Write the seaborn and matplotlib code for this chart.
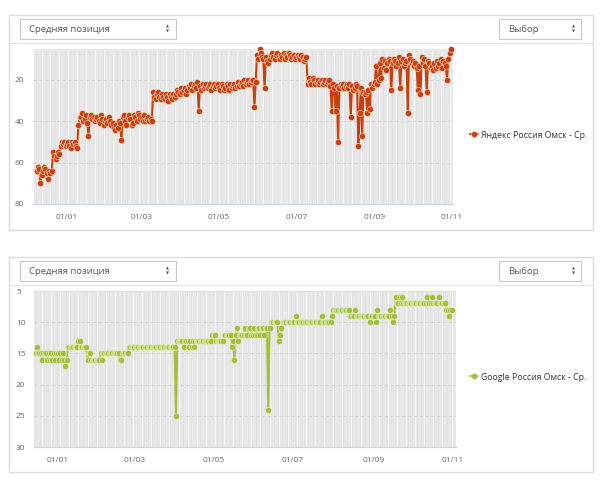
import numpy as np
import pandas as pd
import matplotlib
matplotlib.use('Agg')
import matplotlib.pyplot as plt
import matplotlib.dates as mdates
from matplotlib.patches import Rectangle
from matplotlib.lines import Line2D
import seaborn as sns

# ---------------- data ----------------
yandex_start = '2016-12-08'
y_dec = [64, 62, 63, 70, 66, 64, 62, 63, 65, 68, 64, 65, 64, 55, 57, 58, 57, 55, 56, 52,
         50, 51, 50, 52]
y_jan = [51, 50, 52, 53, 50, 51, 50, 52, 53, 42, 38, 38, 36, 40, 39, 37, 41, 47, 38, 37,
         39, 38, 40, 39, 38, 40, 41, 37, 39, 42, 40]
y_feb = [39, 41, 38, 40, 42, 41, 43, 44, 42, 43, 40, 41, 49, 38, 37, 40, 42, 38, 37, 39,
         42, 41, 37, 38, 40, 36, 37, 39]
y_mar = [38, 40, 37, 40, 39, 38, 40, 39, 40, 26, 28, 29, 27, 26, 28, 29, 27, 28, 29, 27,
         28, 30, 27, 28, 29, 27, 28, 27, 25, 26, 27]
y_apr = [24, 26, 25, 24, 27, 25, 23, 24, 22, 25, 23, 22, 24, 21, 35, 23, 25, 22, 24, 23,
         22, 24, 23, 22, 25, 23, 22, 24, 23, 22]
y_may = [24, 25, 22, 23, 25, 24, 22, 23, 25, 22, 24, 23, 22, 24, 23, 21, 23, 22, 21, 23,
         20, 22, 21, 20, 22, 21, 20, 20, 33, 21, 8]
y_jun = [10, 5, 7, 9, 10, 24, 9, 11, 12, 10, 8, 7, 9, 10, 8, 7, 9, 10, 8, 9,
         7, 10, 8, 9, 7, 8, 10, 9, 8, 10]
y_jul = [9, 8, 9, 10, 8, 9, 11, 10, 9, 22, 19, 21, 22, 19, 20, 22, 21, 20, 22, 21,
         20, 22, 21, 20, 22, 21, 20, 23, 35, 22, 24]
y_aug = [35, 23, 50, 24, 22, 23, 22, 24, 23, 22, 24, 22, 38, 23, 25, 24, 22, 23, 52, 36,
         24, 47, 26, 27, 26, 36, 25, 34, 22, 24, 22]
y_sep = [21, 13, 22, 20, 12, 19, 10, 14, 11, 15, 12, 10, 11, 25, 12, 10, 11, 13, 12, 9,
         24, 11, 10, 13, 12, 11, 36, 8, 10, 12]
y_oct = [11, 13, 12, 14, 25, 13, 27, 9, 12, 10, 13, 26, 11, 12, 14, 13, 15, 12, 14, 11,
         13, 12, 10, 14, 11, 12, 13, 20, 10, 7, 5]

google_start = '2016-12-15'
g_dec = [15, 14, 15, 15, 15, 16, 15, 15, 15, 16, 15, 16, 15, 16, 15, 16, 15]
g_jan = [15, 16, 15, 16, 15, 16, 17, 16, 14, 14, 14, 14, 14, 14, 14, 14, 13, 13, 14, 14,
         14, 14, 14, 16, 15, 15, 16, 16, 16, 16, 16]
g_feb = [16, 16, 15, 16, 15, 15, 15, 15, 15, 15, 15, 15, 15, 15, 15, 15, 15, 16, 16, 15,
         15, 15, 15, 15, 14, 14, 14, 14]
g_mar = [14, 14, 14, 14, 14, 14, 14, 14, 14, 14, 14, 14, 14, 14, 14, 14, 14, 14, 14, 14,
         14, 14, 14, 14, 14, 14, 14, 14, 14, 14, 14]
g_apr = [14, 25, 13, 13, 13, 13, 13, 14, 13, 13, 13, 14, 13, 14, 13, 14, 13, 13, 13, 13,
         13, 13, 13, 13, 13, 13, 13, 13, 13, 12]
g_may = [12, 12, 13, 13, 13, 13, 13, 13, 12, 12, 12, 12, 12, 12, 14, 13, 16, 12, 11, 13,
         12, 12, 12, 12, 11, 12, 12, 11, 11, 12, 12]
g_jun = [11, 12, 12, 11, 11, 12, 11, 11, 12, 11, 11, 24, 11, 10, 10, 10, 10, 10, 10, 13,
         12, 11, 10, 10, 10, 10, 10, 10, 10, 10]
g_jul = [10, 10, 9, 10, 10, 10, 10, 10, 10, 10, 10, 10, 10, 10, 10, 10, 10, 10, 10, 10,
         10, 10, 9, 10, 10, 10, 10, 10, 10, 10, 9]
g_aug = [8, 8, 8, 8, 8, 8, 8, 8, 8, 8, 8, 8, 8, 9, 9, 9, 9, 8, 9, 9,
         9, 9, 9, 9, 9, 9, 9, 9, 10, 9, 9]
g_sep = [9, 9, 10, 8, 9, 9, 9, 9, 9, 9, 9, 9, 9, 8, 9, 10, 9, 6, 7, 7,
         6, 7, 6, 7, 7, 7, 7, 7, 7, 7]
g_oct = [7, 7, 7, 7, 7, 7, 7, 7, 7, 7, 7, 6, 7, 7, 7, 6, 7, 7, 7, 7,
         6, 7, 7, 7, 7, 7, 8, 8, 9, 8, 8]

yandex_label = 'Яндекс Россия Омск - Ср.'
google_label = 'Google Россия Омск - Ср.'
dropdown_left = 'Средняя позиция'
dropdown_right = 'Выбор'
top_yticks = [20, 40, 60, 80]
bottom_yticks = [5, 10, 15, 20, 25, 30]

yandex_vals = y_dec + y_jan + y_feb + y_mar + y_apr + y_may + y_jun + y_jul + y_aug + y_sep + y_oct
google_vals = g_dec + g_jan + g_feb + g_mar + g_apr + g_may + g_jun + g_jul + g_aug + g_sep + g_oct
df_y = pd.DataFrame({'date': pd.date_range(yandex_start, periods=len(yandex_vals), freq='D'),
                     'pos': yandex_vals})
df_g = pd.DataFrame({'date': pd.date_range(google_start, periods=len(google_vals), freq='D'),
                     'pos': google_vals})

# ---------------- style ----------------
sns.set_theme(style='white')
plt.rcParams['font.family'] = ['Open Sans', 'DejaVu Sans']

W, H = 602, 480
fig = plt.figure(figsize=(W / 100, H / 100), dpi=100)
fig.patch.set_facecolor('white')


def fx(x):
    return x / W


def fy(y):
    return 1 - y / H


def panel(top, bottom):
    fig.patches.append(Rectangle((fx(8.5), fy(bottom)), fx(593 - 8.5), (bottom - top) / H,
                                 transform=fig.transFigure, fill=False, ec='#dcdcdc', lw=1.0))
    fig.add_artist(Line2D([fx(8.5), fx(593)], [fy(top + 28), fy(top + 28)],
                          transform=fig.transFigure, color='#e4e4e4', lw=1.0))
    y0, y1 = top + 4, top + 24
    for (a, b, txt, tx, ax_) in [(20, 176, dropdown_left, 29, 167), (499, 581, dropdown_right, 508, 573)]:
        fig.patches.append(Rectangle((fx(a), fy(y1)), fx(b - a), (y1 - y0) / H,
                                     transform=fig.transFigure, fill=True, fc='white',
                                     ec='#c8c8c8', lw=0.8))
        fig.text(fx(tx), fy((y0 + y1) / 2), txt, fontsize=6.8, color='#555555',
                 va='center', ha='left')
        fig.text(fx(ax_), fy((y0 + y1) / 2 - 2.2), '▲', fontsize=2.8, color='#555555',
                 va='center', ha='center', family='DejaVu Sans')
        fig.text(fx(ax_), fy((y0 + y1) / 2 + 2.2), '▼', fontsize=2.8, color='#555555',
                 va='center', ha='center', family='DejaVu Sans')


panel(15, 230)
panel(257, 472)

MEC = (1, 1, 1, 0.55)


def style_axes(ax, df, color, ylim, yticks, xlim, label, legend_y):
    ax.set_facecolor('#e2e2e2')
    days = pd.date_range(pd.Timestamp(xlim[0]).normalize(), pd.Timestamp(xlim[1]), freq='D')
    ax.vlines(days, 0, 1, transform=ax.get_xaxis_transform(), colors='#ececec', lw=0.5, zorder=0.1)
    weeks = days[::7]
    ax.vlines(weeks, 0, 1, transform=ax.get_xaxis_transform(), colors='#f8f8f8', lw=0.7, zorder=0.2)
    for v in yticks:
        ax.axhline(v, color='#d2d2d2', lw=0.6, ls=(0, (4, 3)), zorder=0.3)
    sns.lineplot(data=df, x='date', y='pos', ax=ax, color=color, marker='o', markersize=4.5,
                 markeredgecolor=MEC, markeredgewidth=0.6, linewidth=1.5,
                 legend=False, estimator=None, zorder=3, clip_on=False)
    ax.set_ylim(*ylim)
    ax.set_xlim(pd.Timestamp(xlim[0]), pd.Timestamp(xlim[1]))
    ax.set_yticks(yticks)
    ax.xaxis.set_major_locator(mdates.MonthLocator(bymonth=[1, 3, 5, 7, 9, 11]))
    ax.xaxis.set_major_formatter(mdates.DateFormatter('%d/%m'))
    ax.set_xlabel('')
    ax.set_ylabel('')
    for s in ['top', 'right', 'left']:
        ax.spines[s].set_visible(False)
    ax.spines['bottom'].set_color('#ccd6eb')
    ax.spines['bottom'].set_linewidth(1.0)
    ax.tick_params(axis='x', colors='#ccd6eb', length=5, width=1, labelcolor='#666666',
                   labelsize=6, pad=2)
    ax.tick_params(axis='y', length=0, labelcolor='#666666', labelsize=6, pad=13)
    for t in ax.get_yticklabels():
        t.set_horizontalalignment('left')
    ax.grid(False)
    h = Line2D([], [], color=color, marker='o', markersize=4.5, markeredgecolor=MEC,
               markeredgewidth=0.6, lw=1.5)
    fig.legend([h], [label], loc='center left', bbox_to_anchor=(fx(470), fy(legend_y)),
               frameon=False, fontsize=6.3, handlelength=0.9, handletextpad=0.4,
               borderpad=0, borderaxespad=0, labelcolor='#333333')


ax1 = fig.add_axes([fx(33), fy(204), fx(453 - 33), 155 / H])
style_axes(ax1, df_y, '#c8410b', (80, 5), top_yticks,
           ('2016-12-05 05:00', '2017-11-01 17:00'), yandex_label, 135)

ax2 = fig.add_axes([fx(34), fy(447), fx(456 - 34), 156 / H])
style_axes(ax2, df_g, '#a2c03a', (30, 5), bottom_yticks,
           ('2016-12-13 19:00', '2017-11-03 10:00'), google_label, 377)

fig.savefig('out.png', dpi=100, facecolor='white')
